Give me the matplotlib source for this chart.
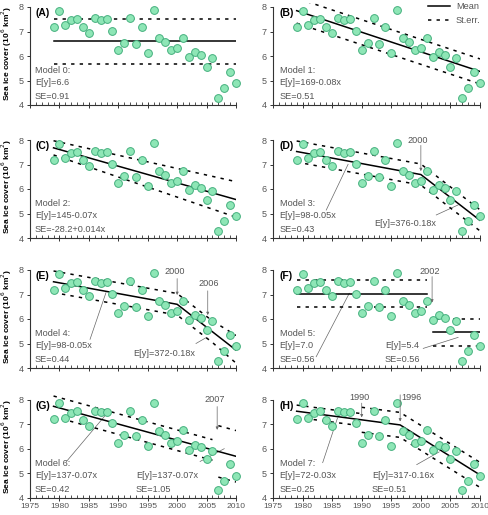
### Sea ice cover: eight candidate models (A-H) fitted to the 1979-2010 record

import numpy as np
from matplotlib import pyplot as plt
from matplotlib.ticker import MultipleLocator

###############################################################################
#Data
###############################################################################

years = [1979, 1980, 1981, 1982, 1983, 1984, 1985, 1986, 1987, 1988, 1989,
         1990, 1991, 1992, 1993, 1994, 1995, 1996, 1997, 1998, 1999, 2000,
         2001, 2002, 2003, 2004, 2005, 2006, 2007, 2008, 2009, 2010]
ice = [7.20, 7.85, 7.25, 7.45, 7.52, 7.17, 6.93, 7.54, 7.48, 7.49, 7.04,
       6.24, 6.55, 7.55, 6.50, 7.18, 6.13, 7.88, 6.74, 6.56, 6.24, 6.32,
       6.75, 5.96, 6.15, 6.05, 5.57, 5.92, 4.30, 4.68, 5.36, 4.90]

panel_labels = ['(A)', '(B)', '(C)', '(D)', '(E)', '(F)', '(G)', '(H)']

#mean lines (x, y)
mean_A = [([1979, 2010], [6.60, 6.60])]
mean_B = [([1979, 2010], [7.85, 5.37])]
mean_C = [([1979, 2010], [7.68, 5.57])]
mean_D = [([1979, 2000, 2010], [7.53, 6.59, 4.72])]
mean_E = [([1979, 2000, 2010], [7.52, 6.60, 4.73])]
mean_F = [([1979, 2001], [7.04, 7.04]), ([2002, 2010], [5.45, 5.45])]
mean_G = [([1979, 2010], [7.73, 5.69])]
mean_H = [([1979, 1996.5, 2010], [7.53, 6.97, 4.93])]

#standard error bands (dotted)
se_A = [([1979, 2010], [7.51, 7.51]), ([1979, 2010], [5.69, 5.69])]
se_B = [([1979, 2010], [8.36, 5.88]), ([1979, 2010], [7.34, 4.86])]
se_C = [([1979, 2010], [7.97, 6.30]), ([1979, 2010], [7.39, 4.85])]
se_D = [([1979, 2000, 2010], [7.96, 7.02, 5.15]),
        ([1979, 2000, 2010], [7.10, 6.16, 4.29])]
se_E = [([1979, 2000, 2006, 2010], [7.96, 7.04, 5.92, 5.33]),
        ([1979, 2000, 2006, 2010], [7.08, 6.16, 5.04, 4.20])]
se_F = [([1979, 2001], [7.60, 7.60]), ([1979, 2001], [6.48, 6.48]),
        ([2002.5, 2010], [6.01, 6.01]), ([2002, 2010], [4.89, 4.89])]
se_G = [([1979, 2006], [8.15, 6.37]), ([1979, 2006], [7.31, 5.53]),
        ([2007, 2010], [6.94, 6.74]), ([2007, 2010], [4.84, 4.64])]
se_H = [([1979, 1990], [7.78, 7.43]), ([1979, 1990], [7.28, 6.93]),
        ([1990, 1996.5, 2010], [7.69, 7.48, 5.44]),
        ([1990, 1996.5, 2010], [6.67, 6.46, 4.42])]

#model text (x, y, string)
text_A = [(1975.85, 5.40, 'Model 0:'), (1975.85, 4.90, 'E[y]=6.6'),
          (1975.85, 4.35, 'SE=0.91')]
text_B = [(1976.1, 5.40, 'Model 1:'), (1976.1, 4.90, 'E[y]=169-0.08x'),
          (1976.1, 4.35, 'SE=0.51')]
text_C = [(1975.85, 5.40, 'Model 2:'), (1975.85, 4.90, 'E[y]=145-0.07x'),
          (1975.85, 4.35, 'SE=-28.2+0.014x')]
text_D = [(1976.1, 5.40, 'Model 3:'), (1976.1, 4.90, 'E[y]=98-0.05x'),
          (1976.1, 4.35, 'SE=0.43'), (1992.2, 4.60, 'E[y]=376-0.18x')]
text_E = [(1975.85, 5.40, 'Model 4:'), (1975.85, 4.90, 'E[y]=98-0.05x'),
          (1975.85, 4.35, 'SE=0.44'), (1992.6, 4.60, 'E[y]=372-0.18x')]
text_F = [(1976.1, 5.40, 'Model 5:'), (1976.1, 4.90, 'E[y]=7.0'),
          (1976.1, 4.35, 'SE=0.56'), (1993.9, 4.90, 'E[y]=5.4'),
          (1993.9, 4.35, 'SE=0.56')]
text_G = [(1975.85, 5.40, 'Model 6:'), (1975.85, 4.90, 'E[y]=137-0.07x'),
          (1975.85, 4.35, 'SE=0.42'), (1993.0, 4.90, 'E[y]=137-0.07x'),
          (1993.0, 4.35, 'SE=1.05')]
text_H = [(1976.1, 5.40, 'Model 7:'), (1976.1, 4.90, 'E[y]=72-0.03x'),
          (1976.1, 4.35, 'SE=0.25'), (1991.7, 4.90, 'E[y]=317-0.16x'),
          (1991.7, 4.35, 'SE=0.51')]

#leader lines from the text to the fit ((x0, y0), (x1, y1))
lead_A, lead_B, lead_C = [], [], []
lead_D = [((1984.0, 5.14), (1987.7, 7.01)), ((2002.6, 4.94), (2006.3, 5.35))]
lead_E = [((1985.2, 5.17), (1987.9, 7.07)), ((2003.2, 5.00), (2005.0, 5.25))]
lead_F = [((1982.3, 4.46), (1987.9, 7.05)), ((2000.4, 4.80), (2006.3, 5.25))]
lead_G = [((1981.2, 5.48), (1987.9, 7.39)), ((2003.9, 5.48), (2008.0, 6.00))]
lead_H = [((1983.4, 5.43), (1985.9, 7.25)), ((1999.3, 5.35), (2003.1, 5.87))]

#breakpoint arrows (label, label xy, arrow tail, arrow tip)
brk_A, brk_B, brk_C = [], [], []
brk_D = [('2000', (1999.5, 7.96), (2000, 7.78), (2000, 6.73))]
brk_E = [('2000', (1999.6, 7.93), (2000, 7.65), (2000, 6.98)),
         ('2006', (2005.3, 7.46), (2005.2, 7.15), (2005.2, 6.16))]
brk_F = [('2002', (2001.5, 7.93), (2001.9, 7.73), (2001.9, 6.67))]
brk_G = [('2007', (2006.4, 8.00), (2006.8, 7.72), (2006.8, 6.77))]
brk_H = [('1990', (1989.6, 8.10), (1990, 7.86), (1990, 7.28)),
         ('1996', (1998.4, 8.10), (1996.5, 8.20), (1996.5, 7.11))]

means = [mean_A, mean_B, mean_C, mean_D, mean_E, mean_F, mean_G, mean_H]
ses = [se_A, se_B, se_C, se_D, se_E, se_F, se_G, se_H]
texts = [text_A, text_B, text_C, text_D, text_E, text_F, text_G, text_H]
leads = [lead_A, lead_B, lead_C, lead_D, lead_E, lead_F, lead_G, lead_H]
brks = [brk_A, brk_B, brk_C, brk_D, brk_E, brk_F, brk_G, brk_H]

###############################################################################
#Plotting
###############################################################################

params = {'font.family': ['Liberation Sans', 'DejaVu Sans'],
          'font.size': 6.5,
          'axes.edgecolor': '#333333',
          'axes.linewidth': 0.8,
          'xtick.color': '#333333',
          'ytick.color': '#333333',
          'xtick.labelcolor': '#555555',
          'ytick.labelcolor': '#555555'}
plt.rcParams.update(params)

W, H = 488, 515
fig = plt.figure(figsize=(W/100, H/100), dpi=100)

gray = '#555555'
fill = '#8ee6b6'
edge = '#45b07e'
dots = (0, (2.2, 3.4))

col_x = [(30, 206), (273, 207)]          #left px, width px
row_bot = [105, 238, 368, 497.7]         #px of y = 4
unit = 24.5                              #px per y unit
ytop = 8.18

for i in range(8):
    r, c = i // 2, i % 2
    x0, w = col_x[c]
    h = (ytop - 4) * unit
    ax = fig.add_axes([x0/W, 1 - row_bot[r]/H, w/W, h/H])

    ax.plot(years, ice, 'o', ms=5.6, mfc=fill, mec=edge, mew=0.7,
            clip_on=False, zorder=3)

    for xs, ys in means[i]:
        l_mean = ax.plot(xs, ys, color='black', lw=1.1, zorder=2)[0]
    for xs, ys in ses[i]:
        l_se = ax.plot(xs, ys, color='black', lw=1.1, ls=dots, zorder=2)[0]

    for tx, ty, s in texts[i]:
        ax.text(tx, ty, s, color=gray, fontsize=6.6, va='center',
                ha='left', clip_on=False)
    for (a, b) in leads[i]:
        ax.plot([a[0], b[0]], [a[1], b[1]], color='#666666', lw=0.5,
                zorder=1, clip_on=False)
    for s, txy, tail, tip in brks[i]:
        ax.text(txy[0], txy[1], s, color=gray, fontsize=6.6, ha='center',
                va='center', clip_on=False)
        ax.annotate('', xy=tip, xytext=tail, annotation_clip=False,
                    arrowprops=dict(arrowstyle='-|>', color='#666666',
                                    lw=0.5, mutation_scale=4,
                                    shrinkA=0, shrinkB=0))

    ax.text(1975.85 if c == 0 else 1976.1, 7.74, panel_labels[i],
            fontsize=7.5, fontweight='bold', va='center', ha='left')

    ax.set_xlim(1975, 2010)
    ax.set_ylim(4, ytop)
    ax.spines['top'].set_visible(False)
    ax.spines['right'].set_visible(False)
    ax.spines['left'].set_bounds(4, 8)
    ax.set_yticks([4, 5, 6, 7, 8])
    ax.xaxis.set_major_locator(MultipleLocator(5))
    ax.xaxis.set_minor_locator(MultipleLocator(1))
    ax.tick_params(axis='y', direction='out', length=2.2, width=0.7,
                   pad=2.5, labelsize=6.5)
    ax.tick_params(axis='x', which='major', direction='inout', length=5,
                   width=0.7, pad=1.5, labelsize=6.1)
    ax.tick_params(axis='x', which='minor', direction='in', length=2.3,
                   width=0.6)
    if r < 3:
        ax.set_xticklabels([])
    if c == 0:
        ax.set_ylabel('Sea ice cover (10$^6$ km$^2$)', fontsize=6,
                      fontweight='bold', labelpad=3)

    if i == 1:
        fig.legend([l_mean, l_se], ['Mean', 'St.err.'], loc='upper right',
                   bbox_to_anchor=(0.998, 1.008), frameon=False,
                   fontsize=6.6, labelcolor=gray, handlelength=2.4,
                   handletextpad=0.7, labelspacing=0.55, borderpad=0.2)

plt.savefig('out.png', dpi=100)
